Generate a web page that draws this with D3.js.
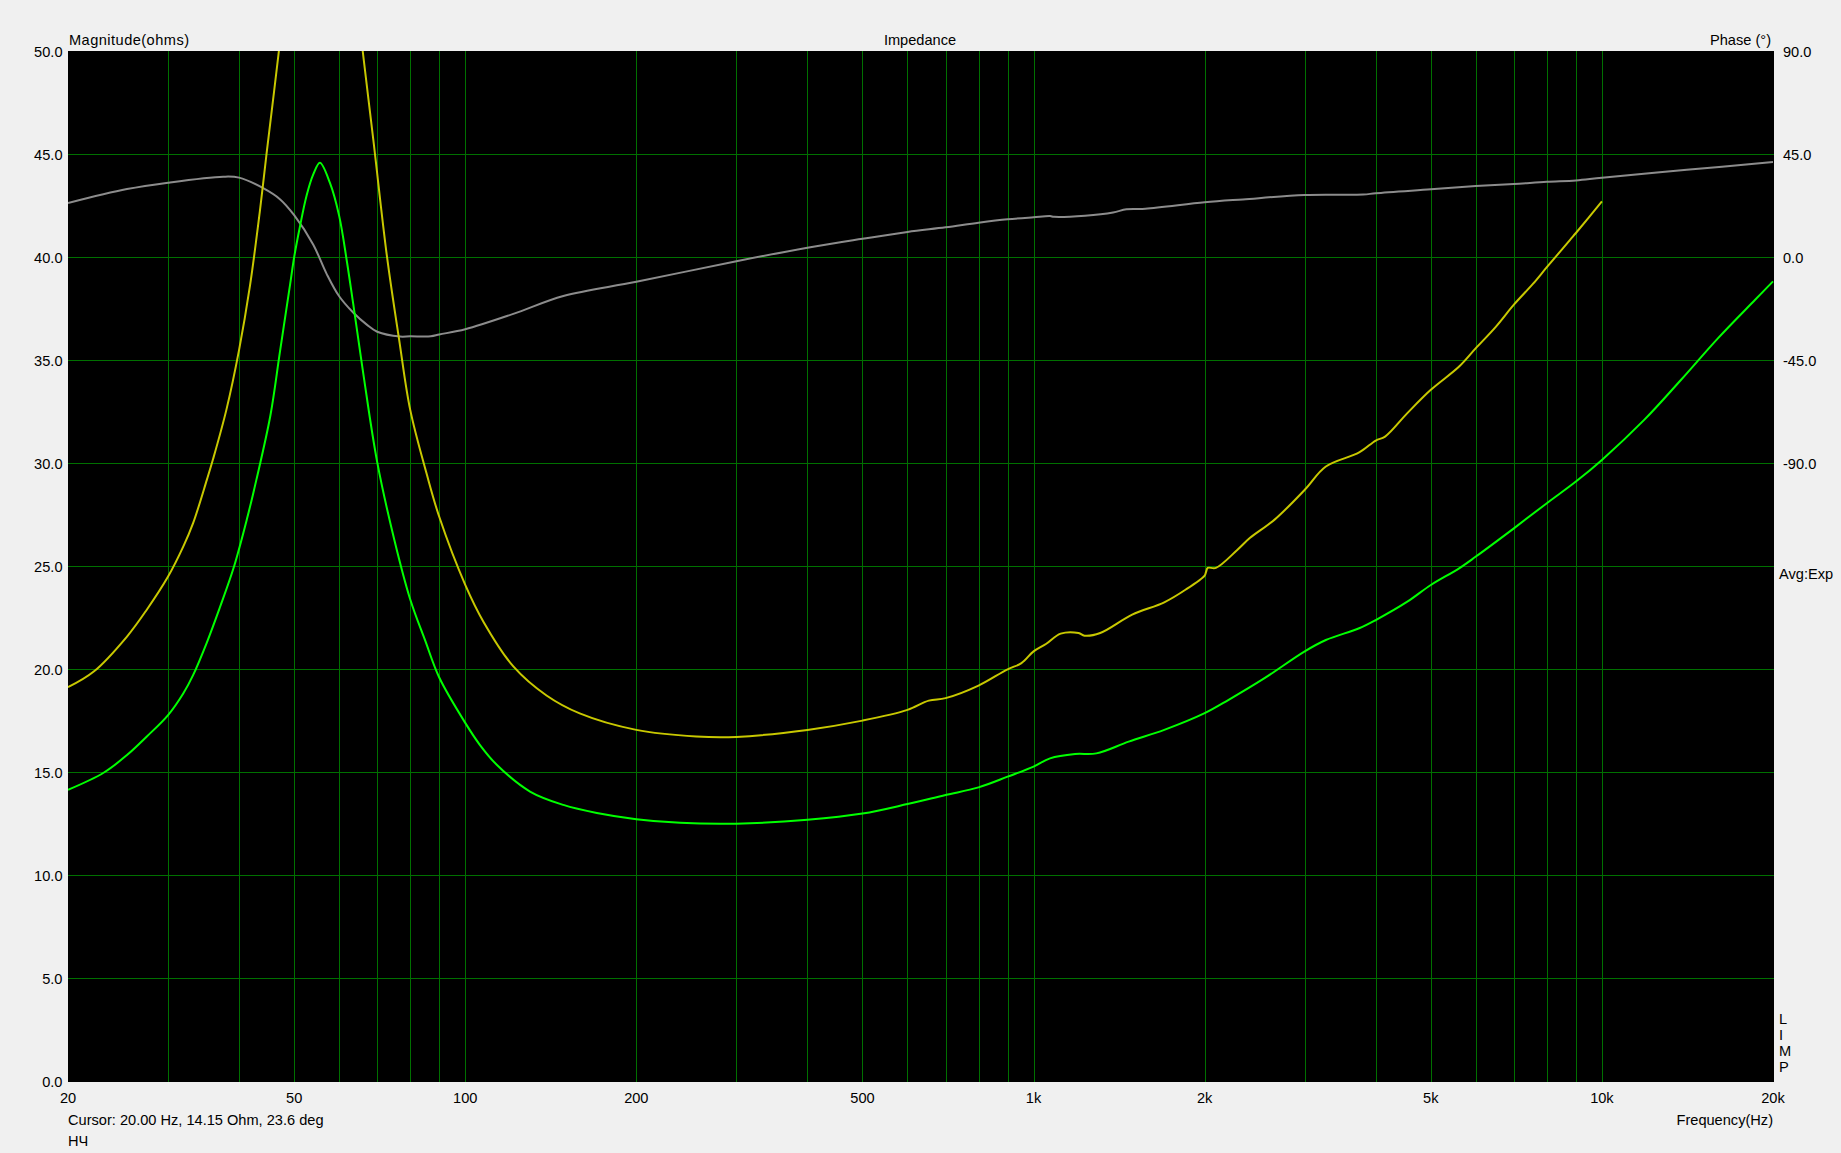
<!DOCTYPE html>
<html><head><meta charset="utf-8">
<script src="https://cdn.jsdelivr.net/npm/d3@7"></script>
<style>
html,body{margin:0;padding:0;background:#f0f0f0;}
svg text{font-family:"Liberation Sans",Arial,sans-serif;font-size:14.6px;fill:#000;}
</style></head>
<body><svg id="c" width="1841" height="1153"></svg>
<script>
// ---- data ----
const greenFreq = [20,23.1,25.4,27.5,30,31.9,33.2,35.1,37,39.1,41.3,42.9,45.4,47.2,49.2,50,51.2,52.6,54,55.5,57.8,60,61.9,63.5,66.2,70,75,80,85,90,100,106,113.6,130,148.8,170.4,200,238.8,300,400,500,600,700,800,900,1000,1069,1183,1290,1470,1698,2000,2204,2549,3000,3268,3740,4000,4546,5000,5608,6000,7000,8000,9000,10000,11868,13783,16012,18603,20000];
const greenZ    = [14.15,14.98,15.84,16.73,17.78,18.83,19.72,21.3,23.0,24.9,27.3,29.19,32.3,35.4,38.7,40.0,41.5,43.0,44.0,44.58,43.6,42.0,39.8,37.75,34.3,30.05,26.3,23.4,21.4,19.6,17.4,16.35,15.37,14.07,13.42,13.03,12.73,12.55,12.51,12.7,13.0,13.46,13.9,14.27,14.79,15.28,15.68,15.89,15.92,16.49,17.06,17.87,18.52,19.57,20.87,21.42,21.99,22.39,23.28,24.09,24.9,25.47,26.84,28.06,29.11,30.16,32.1,34.05,36.07,37.93,38.82];

const yellowFreq = [20,22.2,25.4,27.5,30,31.9,33.2,35.1,36,38,40,41.8,43.5,44.7,47,49,52,55.5,59,62,66,68.9,72.8,76.5,80,85.5,90,100,107.7,121.5,139,159,200,255,300,400,500,600,654,700,800,900,952,1000,1053,1116,1200,1229,1310,1491,1698,1853,2000,2010,2025,2093,2282,2404,2652,3000,3268,3740,4000,4154,4546,5000,5608,6000,6511,7000,7568,8000,8790,9000,10000];
const yellowZ    = [19.13,19.89,21.59,22.88,24.5,25.95,27.09,29.19,30.2,32.6,35.5,38.6,42.2,45.0,50.0,54.5,61,64,61,56.5,50.0,45.7,40.06,36.0,32.6,29.5,27.4,24.1,22.3,20.14,18.73,17.86,17.06,16.74,16.72,17.06,17.51,18.03,18.48,18.6,19.21,20.0,20.3,20.87,21.24,21.73,21.76,21.63,21.76,22.65,23.25,23.87,24.55,24.7,24.92,24.92,25.79,26.38,27.25,28.71,29.84,30.52,31.1,31.29,32.43,33.56,34.69,35.58,36.63,37.69,38.71,39.51,40.84,41.17,42.7];

const phaseFreq = [20,25.4,30,37.5,40,44.1,47.2,50,54,57,60,63.5,67.1,70,76.8,80,87,90,100,121.5,148.8,200,300,400,500,600,700,800,900,1000,1069,1086,1232,1380,1457,1573,2000,2335,3000,3800,4000,5000,6000,7000,8000,9000,10000,14100,20000];
const phaseDeg  = [23.6,29.7,32.5,35.1,34.7,30.1,25.3,18.3,5.5,-7.2,-17.1,-24.2,-29.5,-32.6,-34.7,-34.6,-34.6,-33.8,-31.5,-24.8,-17,-10.8,-1.8,4.1,8.0,11.0,13.0,15.0,16.5,17.4,17.9,17.6,18.1,19.5,20.9,21.1,23.9,25.2,27.1,27.3,27.9,29.6,31.0,31.9,32.9,33.5,34.7,38.1,41.5];

const magTicks   = [0,5,10,15,20,25,30,35,40,45,50];
const phaseTicks = [90,45,0,-45,-90];
const freqGrid   = [30,40,50,60,70,80,90,100,200,300,400,500,600,700,800,900,1000,2000,3000,4000,5000,6000,7000,8000,9000,10000];
const freqLabels = [20,50,100,200,500,1000,2000,5000,10000,20000];
const freqLabelText = ["20","50","100","200","500","1k","2k","5k","10k","20k"];

// ---- layout ----
const L = 68, R = 1773, T = 51, B = 1081.5;
const svg = d3.select("#c");
const x = d3.scaleLog().domain([20,20000]).range([L,R]);
const y = d3.scaleLinear().domain([0,50]).range([B,T]);
const yp = d3.scaleLinear().domain([-360,90]).range([B,T]);

svg.append("rect").attr("x",L).attr("y",T).attr("width",R-L+1).attr("height",B-T+0.5).attr("fill","#000");

const defs = svg.append("defs");
defs.append("clipPath").attr("id","clip").append("rect").attr("x",L).attr("y",T).attr("width",R-L+1).attr("height",B-T);

const grid = svg.append("g").attr("stroke","#007000").attr("stroke-width",1).attr("shape-rendering","crispEdges");
grid.selectAll("line.v").data(freqGrid).join("line")
  .attr("x1",d=>Math.round(x(d))+0.5).attr("x2",d=>Math.round(x(d))+0.5).attr("y1",T).attr("y2",B);
grid.selectAll("line.h").data(magTicks.filter(d=>d>0&&d<50)).join("line")
  .attr("y1",d=>Math.round(y(d))+0.5).attr("y2",d=>Math.round(y(d))+0.5).attr("x1",L).attr("x2",R+1);

const plot = svg.append("g").attr("clip-path","url(#clip)");
const lineZ = d3.line().x(d=>x(d[0])).y(d=>y(d[1])).curve(d3.curveCatmullRom.alpha(0.5));
const lineP = d3.line().x(d=>x(d[0])).y(d=>yp(d[1])).curve(d3.curveCatmullRom.alpha(0.5));

plot.append("path").datum(phaseFreq.map((f,i)=>[f,phaseDeg[i]])).attr("d",lineP)
  .attr("fill","none").attr("stroke","#8c8c8c").attr("stroke-width",2);
plot.append("path").datum(yellowFreq.map((f,i)=>[f,yellowZ[i]])).attr("d",lineZ)
  .attr("fill","none").attr("stroke","#c8c800").attr("stroke-width",2);
plot.append("path").datum(greenFreq.map((f,i)=>[f,greenZ[i]])).attr("d",lineZ)
  .attr("fill","none").attr("stroke","#00ff00").attr("stroke-width",2);

// axes labels
svg.append("g").selectAll("text").data(magTicks).join("text")
  .attr("x",62.5).attr("y",d=>y(d)+5.5).attr("text-anchor","end").text(d=>d.toFixed(1));
svg.append("g").selectAll("text").data(phaseTicks).join("text")
  .attr("x",1783).attr("y",d=>yp(d)+5.5).attr("text-anchor","start").text(d=>d.toFixed(1));
svg.append("g").selectAll("text").data(freqLabels).join("text")
  .attr("x",d=>x(d)).attr("y",1102.7).attr("text-anchor","middle").text((d,i)=>freqLabelText[i]);

svg.append("text").attr("x",69).attr("y",45).attr("textLength",120).text("Magnitude(ohms)");
svg.append("text").attr("x",920).attr("y",45).attr("text-anchor","middle").text("Impedance");
svg.append("text").attr("x",1771).attr("y",45).attr("text-anchor","end").text("Phase (°)");
svg.append("text").attr("x",1779).attr("y",579).text("Avg:Exp");
["L","I","M","P"].forEach((c,i)=>svg.append("text").attr("x",1779).attr("y",1024+i*15.9).text(c));
svg.append("text").attr("x",68).attr("y",1125).text("Cursor: 20.00 Hz, 14.15 Ohm, 23.6 deg");
svg.append("text").attr("x",68).attr("y",1145.5).text("НЧ");
svg.append("text").attr("x",1773).attr("y",1125).attr("text-anchor","end").text("Frequency(Hz)");
</script></body></html>
